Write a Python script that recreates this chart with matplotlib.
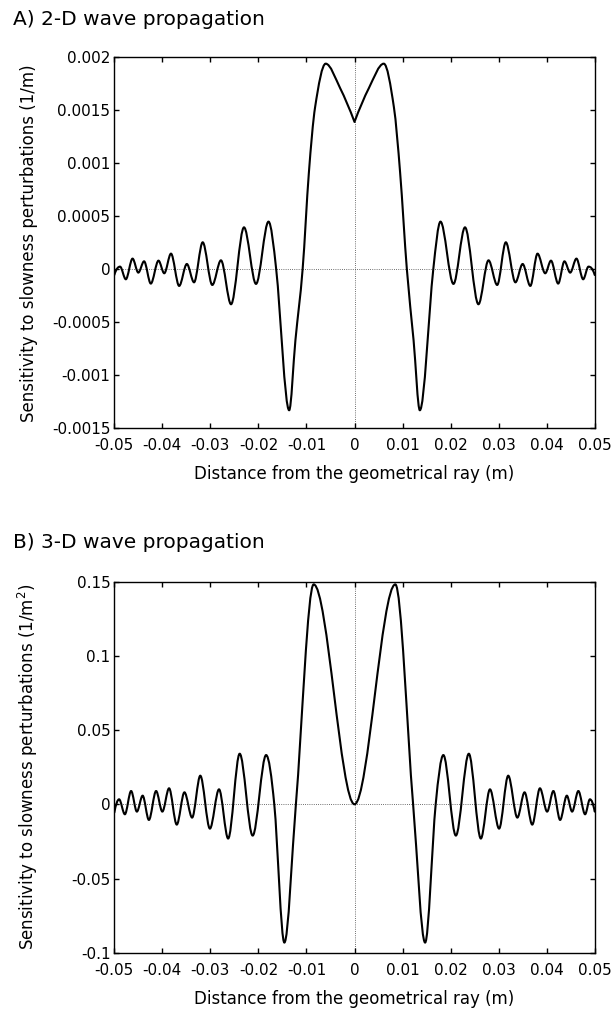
import numpy as np
import matplotlib
matplotlib.use("Agg")
import matplotlib.pyplot as plt
from matplotlib.path import Path
from matplotlib.patches import PathPatch

# ---------------------------------------------------------------------------
# Sensitivity kernels across the geometrical ray: extrema and zero crossings
# ---------------------------------------------------------------------------
# A) 2-D propagation, sensitivity in 1/m
dist_2d = [
    -0.0500, -0.0488, -0.0476, -0.0462, -0.0450, -0.0438, -0.0424, -0.0408,
    -0.0396, -0.0382, -0.0365, -0.0349, -0.0334, -0.0316, -0.0296, -0.0278,
    -0.0257, -0.0230, -0.0205, -0.0179, -0.0163, -0.0136, -0.0123, -0.0108,
    -0.0095, -0.0082, -0.0060, -0.0030,
    0.0,
    0.0030, 0.0061, 0.0082, 0.0095, 0.0109, 0.0123, 0.0136, 0.0164,
    0.0179, 0.0206, 0.0230, 0.0258, 0.0279, 0.0297, 0.0315, 0.0335,
    0.0350, 0.0366, 0.0381, 0.0397, 0.0409, 0.0424, 0.0437, 0.0449,
    0.0462, 0.0476, 0.0487, 0.0500,
]
sens_2d = [
    -0.0000535, 0.0000252, -0.0000943, 0.000101, -0.0000314, 0.0000755,
    -0.000135, 0.0000818, -0.0000377, 0.000148, -0.000157, 0.0000503,
    -0.000123, 0.000255, -0.000148, 0.0000849, -0.000330, 0.000396,
    -0.000138, 0.000450, 0.0, -0.00133, -0.00067, 0.0,
    0.00091, 0.00153, 0.00194, 0.00171,
    0.00139,
    0.00171, 0.00194, 0.00153, 0.00091, 0.0, -0.00067, -0.00133, 0.0,
    0.000450, -0.000138, 0.000396, -0.000330, 0.0000849, -0.000148,
    0.000255, -0.000123, 0.0000503, -0.000157, 0.000148, -0.0000377,
    0.0000818, -0.000135, 0.0000755, -0.0000314, 0.000101, -0.0000943,
    0.0000252, -0.0000535,
]
# the 2-D kernel has a kink on the ray itself
kinks_2d = [0.0]

# B) 3-D propagation, sensitivity in 1/m^2
dist_3d = [
    -0.0500, -0.0490, -0.0478, -0.0465, -0.0453, -0.0441, -0.0428, -0.0413,
    -0.0400, -0.0386, -0.0370, -0.0354, -0.0338, -0.0321, -0.0301, -0.0282,
    -0.0263, -0.0239, -0.0212, -0.0184, -0.0167, -0.0146, -0.0122, -0.0085,
    0.0,
    0.0085, 0.0122, 0.0147, 0.0169, 0.0185, 0.0211,
    0.0238, 0.0263, 0.0282, 0.0301, 0.0320, 0.0339, 0.0354, 0.0370,
    0.0386, 0.0401, 0.0414, 0.0428, 0.0442, 0.0453, 0.0466, 0.0480,
    0.0490, 0.0500,
]
sens_3d = [
    -0.0056, 0.00337, -0.00674, 0.00898, -0.00494, 0.00584, -0.01056,
    0.00898, -0.00494, 0.0108, -0.0137, 0.00809, -0.00898, 0.0193,
    -0.0164, 0.0101, -0.0231, 0.0341, -0.0211, 0.0332, 0.0, -0.0932,
    0.0, 0.1482,
    0.0,
    0.1482, 0.0, -0.0932, 0.0, 0.0332, -0.0211,
    0.0341, -0.0231, 0.0101, -0.0164, 0.0193, -0.00898, 0.00809,
    -0.0137, 0.0108, -0.00494, 0.00898, -0.01056, 0.00584, -0.00494,
    0.00898, -0.00674, 0.00337, -0.0049,
]
kinks_3d = []

x_ticks = [-0.05, -0.04, -0.03, -0.02, -0.01, 0.0, 0.01, 0.02, 0.03, 0.04, 0.05]
x_ticklabels = ["-0.05", "-0.04", "-0.03", "-0.02", "-0.01", "0",
                "0.01", "0.02", "0.03", "0.04", "0.05"]
y_ticks_2d = [-0.0015, -0.001, -0.0005, 0.0, 0.0005, 0.001, 0.0015, 0.002]
y_ticklabels_2d = ["-0.0015", "-0.001", "-0.0005", "0", "0.0005",
                   "0.001", "0.0015", "0.002"]
y_ticks_3d = [-0.1, -0.05, 0.0, 0.05, 0.1, 0.15]
y_ticklabels_3d = ["-0.1", "-0.05", "0", "0.05", "0.1", "0.15"]

titles = ["A) 2-D wave propagation", "B) 3-D wave propagation"]
xlabel = "Distance from the geometrical ray (m)"
ylabels = ["Sensitivity to slowness perturbations (1/m)",
           "Sensitivity to slowness perturbations (1/m$^2$)"]


def knot_slopes(x, y):
    """Tangents: flat at extrema, centred secant elsewhere (no overshoot)."""
    h = np.diff(x)
    d = np.diff(y) / h
    n = len(x)
    m = np.zeros(n)
    for k in range(1, n - 1):
        if d[k - 1] * d[k] > 0:
            s = (y[k + 1] - y[k - 1]) / (x[k + 1] - x[k - 1])
            lim = 3 * min(abs(d[k - 1]), abs(d[k]))
            m[k] = np.sign(s) * min(abs(s), lim)

    def end(h0, h1, d0, d1):
        s = ((2 * h0 + h1) * d0 - h0 * d1) / (h0 + h1)
        if np.sign(s) != np.sign(d0):
            return 0.0
        if np.sign(d0) != np.sign(d1) and abs(s) > abs(3 * d0):
            return 3 * d0
        return s

    if n > 2:
        m[0] = end(h[0], h[1], d[0], d[1])
        m[-1] = end(h[-1], h[-2], d[-1], d[-2])
    else:
        m[:] = d[0]
    return m


def curve_path(x, y, kinks):
    """Cubic Bezier path through the knots, restarting tangents at kinks."""
    x = np.asarray(x, float)
    y = np.asarray(y, float)
    cuts = [0] + [int(np.argmin(np.abs(x - k))) for k in kinks] + [len(x) - 1]
    verts, codes = [(x[0], y[0])], [Path.MOVETO]
    for a, b in zip(cuts[:-1], cuts[1:]):
        xs, ys = x[a:b + 1], y[a:b + 1]
        m = knot_slopes(xs, ys)
        for k in range(len(xs) - 1):
            h = xs[k + 1] - xs[k]
            verts += [(xs[k] + h / 3, ys[k] + m[k] * h / 3),
                      (xs[k + 1] - h / 3, ys[k + 1] - m[k + 1] * h / 3),
                      (xs[k + 1], ys[k + 1])]
            codes += [Path.CURVE4] * 3
    return Path(verts, codes)


plt.rcParams["font.family"] = ["DejaVu Sans"]
plt.rcParams["mathtext.fontset"] = "dejavusans"

W, H = 616, 1022
fig = plt.figure(figsize=(W / 100, H / 100), dpi=100)

panels = [
    dict(x=dist_2d, y=sens_2d, kinks=kinks_2d, yt=y_ticks_2d,
         ytl=y_ticklabels_2d, ylim=(-0.0015, 0.002), top=57.3, title_base=25.0),
    dict(x=dist_3d, y=sens_3d, kinks=kinks_3d, yt=y_ticks_3d,
         ytl=y_ticklabels_3d, ylim=(-0.1, 0.15), top=581.7, title_base=548.5),
]

ax_left, ax_right, ax_h = 114.3, 594.7, 371.0

for i, p in enumerate(panels):
    bottom_px = p["top"] + ax_h
    ax = fig.add_axes([ax_left / W, 1 - bottom_px / H,
                       (ax_right - ax_left) / W, ax_h / H])
    ax.set_xlim(-0.05, 0.05)
    ax.set_ylim(*p["ylim"])

    ax.axhline(0, color="0.25", lw=0.6, ls=(0, (1, 1.6)), zorder=1)
    ax.axvline(0, color="0.25", lw=0.6, ls=(0, (1, 1.6)), zorder=1)

    patch = PathPatch(curve_path(p["x"], p["y"], p["kinks"]), fill=False,
                      edgecolor="black", lw=1.5, capstyle="round",
                      joinstyle="round", zorder=3)
    ax.add_patch(patch)

    ax.set_xticks(x_ticks)
    ax.set_xticklabels(x_ticklabels)
    ax.set_yticks(p["yt"])
    ax.set_yticklabels(p["ytl"])
    ax.tick_params(axis="both", which="major", direction="in", length=3.8,
                   width=1.0, labelsize=11, top=True, right=True,
                   colors="black")
    ax.tick_params(axis="x", pad=7.2)
    ax.tick_params(axis="y", pad=2.8)
    for s in ax.spines.values():
        s.set_linewidth(1.0)

    ax.set_xlabel(xlabel, fontsize=12)
    ax.xaxis.label.set_va("baseline")
    ax.xaxis.set_label_coords(0.5, -51.0 / ax_h)

    ax.set_ylabel(ylabels[i], fontsize=12)
    ax.yaxis.label.set_va("baseline")
    ax.yaxis.set_label_coords((34.5 - ax_left) / (ax_right - ax_left), 0.5)

    fig.text(12.7 / W, 1 - p["title_base"] / H, titles[i], fontsize=14.5,
             ha="left", va="baseline")

fig.savefig("out.png", dpi=100, facecolor="white")
